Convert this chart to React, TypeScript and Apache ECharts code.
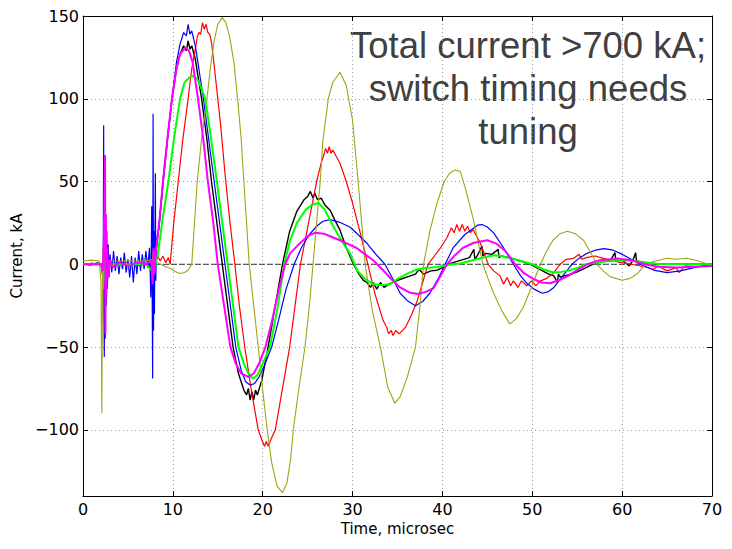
import React, { useEffect, useRef } from "react";
import * as echarts from "echarts";

const xMin = 0;
const xMax = 70;
const xStep = 10;
const yMin = -140;
const yMax = 150;

const xTitle = "Time, microsec";
const yTitle = "Current, kA";
const annotationLines = ["Total current >700 kA;", "switch timing needs", "tuning"];

const blackData: number[][] = [
  [0,0.5],[0.8,-0.5],[1.6,0.8],[2.2,0],[2.3,-6],[2.38,9],[2.45,-4],[2.6,2],[3.2,-0.5],[4.5,0.8],[6,-0.5],[7.4,0.5],[7.7,-9],[7.8,6],[7.9,-4],[8.0,2],
  [8.5,25],[8.9,50],[9.4,76],[9.9,100],[10.4,118],[10.8,127],[11.2,132],[11.5,129],[11.7,135],[11.9,130],[12.1,132],[12.5,124],[12.9,110],[13.2,100],
  [13.8,75],[14.3,50],[14.9,25],[15.5,0],[16.1,-25],[16.7,-50],[17.3,-66],[17.9,-76],[18.2,-79],[18.4,-75],[18.6,-82],[18.8,-77],[19.0,-82],[19.2,-76],
  [19.4,-79],[19.9,-70],[20.6,-50],[21.4,-25],[22.2,0],[23.0,20],[23.8,32],[24.6,39],[25.0,41],[25.3,44],[25.6,40],[25.8,43],[26.1,39],[26.5,40],
  [26.9,36],[27.5,32.6],[28.0,27],[28.6,20.6],[29.3,10],[30.1,0],[30.6,-5],[31.2,-9.7],[31.6,-11],[32.0,-14],[32.3,-11],[32.7,-15],[33.1,-11],
  [33.5,-14],[34.2,-11.5],[35.1,-9.5],[36.1,-7.6],[37.0,-6],[37.4,-3],[37.9,-6],[38.7,-4],[39.4,-3.6],[40.2,-1.5],[40.9,0.5],[42,2.4],[43,4],
  [43.5,9],[43.6,3],[43.9,5.4],[44.4,11],[44.5,5],[44.8,6.6],[45.5,6],[46.2,9],[46.3,4],[46.5,5],[47.5,4],[48.7,2],[49.8,0],[50.8,-3],[51.7,-5.6],
  [52.4,-7],[52.8,-11],[52.9,-6],[53.1,-7.6],[54,-6.5],[55,-4.6],[56,-2],[56.7,0],[57.7,1.5],[58.7,2.4],[59.2,7],[59.3,2],[60,2.6],[60.8,-1],
  [61.2,2.4],[61.5,7],[61.6,2],[62.5,1],[64.3,0],[67,0],[70,0]
];

const blueData: number[][] = [
  [0,0],[1,0.5],[2,0],[2.25,-10],[2.3,84],[2.33,-30],[2.37,-56],[2.42,40],[2.47,-45],[2.52,30],[2.58,-25],[2.65,20],[2.72,-15],[2.8,12],[2.9,-8],
  [3.0,6],[3.2,-5],[3.4,8],[3.6,-4],[3.8,5],[4.0,-6],[4.2,4],[4.4,-3],[4.6,7],[4.8,-5],[5.0,3],[5.2,-8],[5.4,5],[5.6,-11],[5.8,4],[6.0,-6],
  [6.2,8],[6.4,-4],[6.6,6],[6.8,-3],[7.0,8],[7.2,-2],[7.4,10],[7.55,-20],[7.65,35],[7.75,-69],[7.8,91],[7.85,-40],[7.9,20],[7.95,-30],[8.05,55],
  [8.1,-10],[8.2,15],[8.4,20],[8.9,48],[9.4,75],[9.9,100],[10.4,122],[10.8,133],[11.2,140],[11.5,138],[11.7,145],[11.9,139],[12.1,141],[12.5,132],
  [12.9,118],[13.4,100],[14.0,75],[14.6,50],[15.2,25],[15.8,0],[16.4,-25],[17.0,-50],[17.6,-64],[18.1,-71],[18.6,-73],[19.1,-72],[19.6,-68],
  [20.2,-61],[21.0,-50],[21.8,-33],[22.6,-15],[23.5,0],[24.3,10],[25.2,18],[26.0,23],[26.7,26],[27.5,27],[28.5,25.5],[29.7,22.5],[30.6,18],
  [31.6,12.7],[32.6,6],[33.6,0],[34.5,-9],[35.3,-17.5],[36.1,-22],[37,-25],[37.8,-22.5],[38.6,-17.5],[39.5,-9],[40.3,0],[41.2,10],[42.5,18],
  [43.9,23.6],[44.4,24],[45.0,22.5],[45.7,19],[46.8,10],[47.9,0],[48.7,-7],[49.4,-11.5],[50.2,-15],[51.1,-17.5],[51.8,-16.5],[52.4,-14],
  [53.4,-7],[54.4,0],[55.3,4],[56.1,6.6],[57,8.5],[58,9.5],[59,8.5],[59.8,6.6],[61,3],[62,0],[63.5,-3.5],[65,-5],[66.5,-4],[68,-2],[70,0]
];

const redData: number[][] = [
  [0,0],[1,0.5],[2,0],[2.3,-3],[2.45,5],[2.6,-2],[3,0],[5,0.5],[7,0],[7.8,-3],[8,3],[8.3,5],[8.6,2],[8.9,5],[9.2,1],[9.5,4],[9.7,0],
  [10.1,25],[10.6,50],[11.1,75],[11.7,100],[12.1,118],[12.5,130],[12.7,137],[12.9,140],[13.1,139],[13.3,146],[13.5,142],[13.7,145],[13.9,140],
  [14.1,139],[14.3,134],[14.6,120],[14.9,105],[15.3,85],[15.8,55],[16.3,28],[16.9,0],[17.4,-25],[18.0,-50],[18.7,-75],[19.5,-100],[19.9,-106],
  [20.2,-110],[20.4,-107],[20.6,-110],[20.9,-106],[21.4,-100],[22.2,-75],[23.0,-50],[23.6,-25],[24.2,0],[25.1,25],[26.0,50],[26.5,61],[26.8,66],
  [27.0,70],[27.2,67],[27.4,71],[27.6,67],[27.8,69],[28.2,65],[28.6,61],[29.3,50],[30.0,37],[30.9,18],[31.7,0],[32.5,-18],[33.4,-34],[33.8,-38],
  [34.0,-42],[34.3,-40],[34.5,-43],[34.8,-40],[35.2,-42],[35.9,-38],[36.6,-30],[37.2,-22],[37.8,-11],[38.4,0],[39.1,5],[39.8,10],[40.5,16],
  [41.0,22],[41.3,19],[41.6,24],[41.9,20],[42.2,24],[42.5,20],[42.8,23],[43.1,19],[43.4,21],[44.2,13],[45.1,0],[45.7,-4],[46.4,-7],[46.8,-12],
  [47.2,-8],[47.6,-13],[47.9,-10],[48.4,-14],[48.8,-10],[49.4,-13],[49.9,-10],[50.4,-13],[50.9,-10],[51.6,-8.5],[52.3,-5.6],[53.1,0],[53.8,3],
  [54.6,3.6],[55.2,6],[55.5,3],[56,4],[57,5],[57.6,4],[58.7,2.5],[59.8,1.2],[61,0],[62.5,-1.5],[63.5,-3],[64,-1],[65,-4],[66,-2],[66.3,-5],
  [67,-1],[68.5,-1.5],[70,0]
];

const oliveData: number[][] = [
  [0,2],[1,2.5],[1.8,2],[2.0,-10],[2.1,-90],[2.15,-30],[2.2,10],[2.3,-15],[2.4,5],[2.6,0],[3,2],[5,2],[7,2],[7.8,3],[8.2,1],[8.6,0],[9.2,-1.5],
  [9.7,-2.4],[10.3,-4.5],[10.8,-5.6],[11.3,-5],[11.7,-3.6],[12.1,0],[12.7,49],[13.2,76],[13.8,100],[14.2,120],[14.6,135],[15.0,145],[15.5,149],
  [15.9,146],[16.3,138],[16.8,122],[17.2,100],[17.6,76],[17.9,50],[18.2,25],[18.5,0],[19.0,-25],[19.5,-50],[20.0,-76],[20.5,-100],[21.0,-120],
  [21.6,-134],[22.2,-138],[22.7,-132],[23.1,-118],[23.4,-100],[24.0,-76],[24.7,-50],[25.2,-25],[25.6,0],[26.0,25],[26.4,50],[26.7,75],[27.3,100],
  [27.8,110],[28.6,116],[29.3,108],[30,87],[30.7,45],[31.4,0],[32.2,-28],[33.1,-50],[33.9,-74],[34.7,-84],[35.3,-80],[36.1,-68],[37,-50],
  [37.5,-25],[37.9,0],[38.6,20],[39.4,37],[40.2,50],[40.8,55],[41.4,57],[42,56],[42.6,45],[43.4,28],[44.5,0],[45.1,-9],[45.7,-17.5],[46.6,-28],
  [47.5,-36],[48.2,-33],[49,-26],[49.9,-14],[50.9,0],[51.6,8],[52.3,14.5],[53.1,18.5],[53.9,20],[54.8,18.5],[55.7,14.5],[56.5,7],[57.2,0],
  [57.9,-4],[58.7,-7.6],[60,-9.7],[60.9,-8.5],[61.7,-5.6],[62.6,0],[63.7,2],[65,3.6],[66,3],[67.2,3.6],[68.5,2],[69.6,0],[70,0]
];

const greenData: number[][] = [
  [0,0],[1,0],[2,0],[2.3,-5],[2.4,27],[2.45,-10],[2.55,8],[2.7,-3],[3,0],[5,0],[7,0],[7.7,-4],[7.85,8],[8.0,-2],[8.3,5],[8.8,25],[9.5,50],
  [10.1,75],[10.8,100],[11.3,110],[12.1,114],[12.7,112],[13.2,106],[13.6,100],[14.2,78],[14.9,50],[15.5,25],[16.1,0],[16.7,-25],[17.3,-50],
  [17.9,-60],[18.4,-66],[18.9,-69],[19.4,-67],[20.0,-60],[20.8,-50],[21.6,-28],[22.4,0],[23.05,14.5],[23.8,25],[24.8,33],[25.5,36],[26.2,37],
  [26.9,33],[27.9,22.4],[28.8,14],[29.7,6.6],[30.5,-3.6],[31.3,-8.5],[32.3,-12],[33.3,-12.5],[34.2,-12],[35.1,-8.5],[36.1,-5.6],[37,-3.5],
  [37.9,-2.4],[39.4,-1.6],[41,0],[42,0.5],[43,2],[44.2,3.6],[45.7,5.4],[46.6,5],[47.5,3.6],[48.8,2],[50,0],[51.2,-3],[52.3,-5],[53.2,-4.6],
  [54.2,-3.6],[55.1,-2],[56,0],[57.2,1],[58.4,1.8],[60.6,2.4],[62.5,1.2],[64.3,0],[68,0],[70,0]
];

const magentaData: number[][] = [
  [0,0],[1,0],[2,0],[2.2,-4],[2.35,20],[2.45,66],[2.5,-42],[2.55,30],[2.6,-20],[2.7,10],[2.8,-8],[3.0,3],[3.3,-2],[4,1],[5,-1],[6,1],[7,0],
  [7.6,2],[7.75,-12],[7.85,10],[7.95,-6],[8.1,8],[8.5,26],[8.9,50],[9.4,76],[9.9,100],[10.4,118],[10.8,127],[11.4,131],[11.8,129],[12.2,122],
  [12.8,100],[13.4,75],[13.9,50],[14.5,25],[15.0,0],[15.7,-25],[16.4,-50],[17.0,-60],[17.6,-66],[18.4,-68],[19.0,-66],[19.6,-60],[20.3,-50],
  [21.0,-35],[21.8,-15],[22.5,0],[23.05,6.6],[24,12],[25,17],[25.8,19],[26.8,18.5],[27.7,16.5],[28.6,14.5],[29.6,12],[30.5,9.7],[31.4,6],
  [32.3,2.4],[33.4,-3.6],[34.4,-9.5],[35.3,-14],[36.3,-17],[37.3,-18],[38.2,-16.5],[39,-14.5],[39.8,-7],[40.5,0],[41.4,5.5],[42.3,10],[43.5,13],
  [45,14.5],[46,12.5],[47,8],[48.1,0],[49,-5],[50,-8.5],[51,-11],[52,-11.5],[53,-9.5],[54,-7],[55,-3.5],[56.1,0],[57.5,2.5],[59.5,3.5],[61,2.5],
  [62.5,0],[64,-1.5],[66,-2],[68,-1.5],[70,-1]
];

const zeroLine: number[][] = [[xMin, 0], [xMax, 0]];

const seriesDefs = [
  { name: "black", data: blackData, color: "#000000", width: 1.4 },
  { name: "red", data: redData, color: "#ff0000", width: 1.2 },
  { name: "blue", data: blueData, color: "#0000ff", width: 1.2 },
  { name: "olive", data: oliveData, color: "#a3a314", width: 1.1 },
  { name: "green", data: greenData, color: "#00ff00", width: 2 },
  { name: "magenta", data: magentaData, color: "#ff00ff", width: 2 },
];

const tickFont = { color: "#000", fontSize: 16, fontFamily: "DejaVu Sans" };
const frameLine = { show: true, onZero: false, lineStyle: { color: "#000", width: 1 } };
const gridLine = { show: true, lineStyle: { color: "#9a9a9a", width: 1, type: [1, 3] as number[] } };
const inTick = { show: true, inside: true, length: 5, lineStyle: { color: "#000" } };

export default function App() {
  const ref = useRef<HTMLDivElement>(null);
  useEffect(() => {
    if (!ref.current) return;
    const chart = echarts.init(ref.current, undefined, { renderer: "svg" });
    const minusFmt = (v: number) => String(v).replace("-", "\u2212");
    chart.setOption({
      animation: false,
      backgroundColor: "#ffffff",
      grid: { left: 83, top: 16, right: 20, bottom: 53 },
      xAxis: [
        {
          type: "value", min: xMin, max: xMax, interval: xStep, position: "bottom",
          axisLine: frameLine, axisTick: inTick,
          axisLabel: { ...tickFont, margin: 5 },
          splitLine: gridLine,
          name: xTitle, nameLocation: "middle", nameGap: 21,
          nameTextStyle: { color: "#000", fontSize: 15, fontFamily: "DejaVu Sans" },
        },
        {
          type: "value", min: xMin, max: xMax, interval: xStep, position: "top",
          axisLine: frameLine, axisTick: inTick,
          axisLabel: { show: false }, splitLine: { show: false },
        },
      ],
      yAxis: [
        {
          type: "value", min: yMin, max: yMax, position: "left",
          axisLine: frameLine, axisTick: inTick,
          axisLabel: { ...tickFont, margin: 4, showMinLabel: false, formatter: minusFmt },
          splitLine: gridLine,
          name: yTitle, nameLocation: "middle", nameGap: 58, nameRotate: 90,
          nameTextStyle: { color: "#000", fontSize: 15, fontFamily: "DejaVu Sans" },
        },
        {
          type: "value", min: yMin, max: yMax, position: "right",
          axisLine: frameLine, axisTick: inTick,
          axisLabel: { show: false }, splitLine: { show: false },
        },
      ],
      series: [
        {
          type: "line", name: "zero", data: zeroLine, symbol: "none", silent: true,
          lineStyle: { color: "#333333", width: 1, type: [6, 2] },
        },
        ...seriesDefs.map((s) => ({
          type: "line", name: s.name, data: s.data, symbol: "none", showSymbol: false,
          lineStyle: { color: s.color, width: s.width }, itemStyle: { color: s.color },
        })),
      ],
      graphic: annotationLines.map((t, i) => ({
        type: "text", x: 528, y: 45 + i * 43, silent: true,
        style: {
          text: t, fill: "#404040", fontSize: 36.5, fontFamily: "Liberation Sans",
          align: "center", verticalAlign: "middle",
        },
      })),
    });
    return () => chart.dispose();
  }, []);
  return <div ref={ref} style={{ position: "fixed", left: 0, top: 0, width: 732, height: 549 }} />;
}
